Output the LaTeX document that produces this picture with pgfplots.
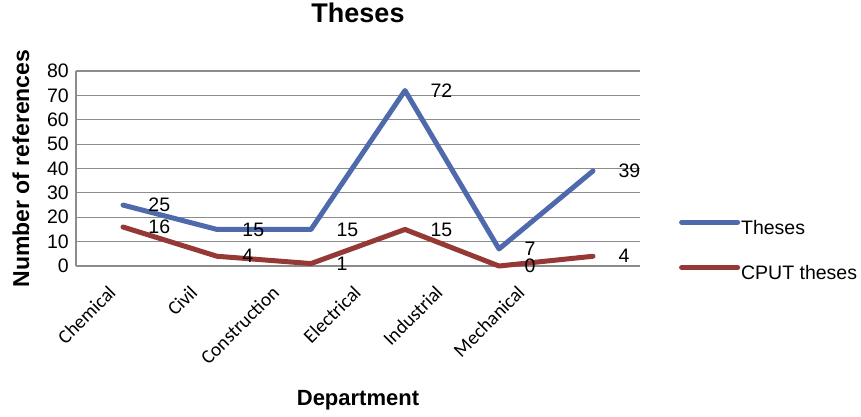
\documentclass[border=0pt]{standalone}
\usepackage{fontspec}
\setmainfont{Liberation Sans}
\newfontfamily\carlito{Carlito}
\usepackage{pgfplots}
\pgfplotsset{compat=1.18}
\definecolor{tblue}{RGB}{78,106,172}
\definecolor{tred}{RGB}{150,56,53}
\definecolor{gridgray}{RGB}{140,140,140}
\newcommand{\fs}[1]{\fontsize{#1}{#1}\selectfont}
\begin{document}
\begin{tikzpicture}
\useasboundingbox (-76pt,-150pt) rectangle (785pt,266pt);
\begin{axis}[
  scale only axis, width=564pt, height=195pt,
  xmin=-0.5, xmax=5.5, ymin=0, ymax=80,
  ytick={0,10,...,80},
  xtick={-0.115,0.755,1.625,2.495,3.365,4.235},
  xticklabels={Chemical,Civil,Construction,Electrical,Industrial,Mechanical},
  axis x line*=bottom, axis y line*=left,
  axis line style={gridgray, line width=1.2pt, -},
  major tick length=0pt,
  ymajorgrids, grid style={gridgray, line width=1.2pt},
  clip=false,
  /pgf/number format/assume math mode=true,
  yticklabel style={font=\fs{19.5}, inner sep=0pt, xshift=-7pt},
  xticklabel style={yshift=-23pt, font=\carlito\fs{19.5}, rotate=45, anchor=east, inner sep=0pt},
  title={Theses},
  title style={font=\bfseries\fs{27}, at={(axis description cs:0.5,1.2667)}, anchor=center},
  ylabel={Number of references},
  ylabel style={font=\bfseries\fs{23}, at={(axis description cs:-0.0975,0.5)}, anchor=center},
  xlabel={Department},
  xlabel style={font=\bfseries\fs{22}, at={(axis description cs:0.5,-0.687)}, anchor=center},
  legend style={draw=none, fill=none, at={(axis description cs:1.069,0.074)}, anchor=west,
    inner sep=0pt, font=\fs{19.5}, row sep=27pt, column sep=1pt,
    nodes={inner sep=0pt, text height=14pt, text depth=4pt}},
  legend cell align=left,
  legend image code/.code={\draw[#1, line width=5pt, line cap=round] (0pt,7pt) -- (56pt,7pt);},
  nodes near coords,
  nodes near coords style={font=\fs{19.5}, anchor=west, inner sep=0pt, xshift=23pt, text=black},
]
\addplot[tblue, line width=5pt, line join=round, line cap=round, mark=none]
  coordinates {(0,25)(1,15)(2,15)(3,72)(4,7)(5,39)};
\addlegendentry{Theses}
\addplot[tred, line width=5pt, line join=round, line cap=round, mark=none]
  coordinates {(0,16)(1,4)(2,1)(3,15)(4,0)(5,4)};
\addlegendentry{CPUT theses}
\end{axis}
\end{tikzpicture}
\end{document}
